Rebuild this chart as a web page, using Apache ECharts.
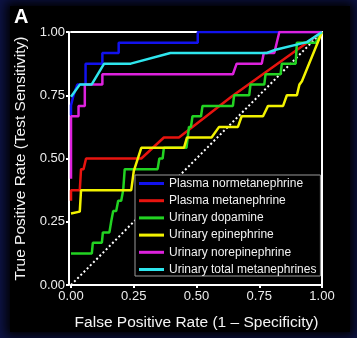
<!DOCTYPE html>
<html><head><meta charset="utf-8">
<script src="https://cdn.jsdelivr.net/npm/echarts@6/dist/echarts.min.js"></script>
<style>
html,body{margin:0;padding:0;background:#0d1345;width:357px;height:338px;overflow:hidden;}
#bg{position:absolute;left:10px;top:6px;width:340px;height:326px;background:#000;box-shadow:0 0 10px 4px #000;}
#c{position:absolute;left:0;top:0;width:357px;height:338px;}
</style>
</head><body><div id="bg"></div><div id="c"></div>
<script>
const seriesNames = ['Plasma normetanephrine','Plasma metanephrine','Urinary dopamine','Urinary epinephrine','Urinary norepinephrine','Urinary total metanephrines'];
const seriesColors = ['#1212ee','#e8140f','#22d322','#f2f200','#dd22dd','#2ee6ee'];
const tickValues = [0, 0.25, 0.5, 0.75, 1];
const tickLabels = ['0.00','0.25','0.50','0.75','1.00'];
const chanceLine = [[0,0],[1,1]];

const plasmaNormetanephrine = [[0,0.67],[0,0.71],[0.01,0.75],[0.025,0.792],[0.058,0.792],[0.058,0.875],[0.125,0.875],[0.125,0.917],[0.19,0.917],[0.19,0.958],[0.505,0.958],[0.505,1],[1,1]];
const plasmaMetanephrine = [[0,0.333],[0,0.375],[0.035,0.375],[0.04,0.458],[0.05,0.458],[0.06,0.5],[0.28,0.5],[0.37,0.583],[0.43,0.583],[0.64,0.745],[1,1]];
const urinaryDopamine = [[0,0.125],[0.083,0.125],[0.087,0.167],[0.123,0.167],[0.127,0.208],[0.153,0.208],[0.16,0.25],[0.168,0.292],[0.18,0.292],[0.188,0.333],[0.2,0.333],[0.208,0.375],[0.214,0.458],[0.345,0.458],[0.352,0.5],[0.365,0.5],[0.37,0.542],[0.46,0.542],[0.465,0.583],[0.47,0.625],[0.478,0.625],[0.484,0.667],[0.518,0.667],[0.524,0.708],[0.645,0.708],[0.65,0.75],[0.71,0.75],[0.715,0.792],[0.77,0.792],[0.775,0.833],[0.835,0.833],[0.84,0.875],[0.895,0.875],[0.9,0.958],[0.975,0.958],[1,1]];
const urinaryEpinephrine = [[0,0.283],[0,0.29],[0.035,0.29],[0.04,0.375],[0.24,0.375],[0.25,0.45],[0.28,0.542],[0.45,0.542],[0.462,0.583],[0.56,0.583],[0.59,0.625],[0.665,0.625],[0.68,0.667],[0.765,0.667],[0.785,0.708],[0.845,0.708],[0.86,0.75],[0.9,0.75],[0.91,0.792],[0.92,0.805],[1,1]];
const urinaryNorepinephrine = [[0,0.42],[0,0.667],[0.03,0.667],[0.03,0.708],[0.055,0.708],[0.055,0.792],[0.125,0.792],[0.125,0.833],[0.645,0.833],[0.66,0.875],[0.76,0.875],[0.768,0.917],[0.81,0.917],[0.83,1],[1,1]];
const urinaryTotalMetanephrines = [[0,0.744],[0.035,0.792],[0.082,0.792],[0.132,0.875],[0.238,0.875],[0.396,0.917],[0.78,0.917],[0.815,0.93],[0.94,0.96],[1,1]];

const seriesData = [plasmaNormetanephrine, plasmaMetanephrine, urinaryDopamine, urinaryEpinephrine, urinaryNorepinephrine, urinaryTotalMetanephrines];
const drawOrder = [1, 2, 3, 0, 4, 5];

const font = '"Liberation Sans", Arial, sans-serif';
function fmt(v){ const i = tickValues.findIndex(t => Math.abs(t - v) < 1e-9); return i >= 0 ? tickLabels[i] : ''; }

const chart = echarts.init(document.getElementById('c'), null, {renderer:'canvas'});

const mainAxis = (extra) => Object.assign({
  type:'value', min:0, max:1, interval:0.25,
  axisLine:{show:true, onZero:false, lineStyle:{color:'#ffffff', width:2}},
  axisTick:{show:true, length:3, inside:false, lineStyle:{color:'#ffffff', width:2}},
  axisLabel:{color:'#ececec', fontSize:13, fontFamily:font, formatter:fmt},
  splitLine:{show:false},
  nameLocation:'middle',
  nameTextStyle:{color:'#f4f4f4', fontSize:15.5, fontFamily:font}
}, extra);
const frameAxis = (extra) => Object.assign({
  type:'value', min:0, max:1,
  axisLine:{show:true, onZero:false, lineStyle:{color:'#ffffff', width:2}},
  axisTick:{show:false}, axisLabel:{show:false}, splitLine:{show:false}
}, extra);

const series = [{
  type:'line', name:'chance', data:chanceLine, symbol:'none', silent:true,
  lineStyle:{color:'#ffffff', width:2, type:[2,2.5]}, z:2
}];
drawOrder.forEach(i => {
  series.push({
    type:'line', name:seriesNames[i], data:seriesData[i], symbol:'none', showSymbol:false,
    color:seriesColors[i], lineStyle:{color:seriesColors[i], width:2.5}, itemStyle:{color:seriesColors[i]}, z:3
  });
});

chart.setOption({
  animation:false,
  backgroundColor:'transparent',
  title:{text:'A', left:14, top:7, padding:0, textStyle:{color:'#ffffff', fontSize:20, fontWeight:'bold', fontFamily:font}},
  grid:{left:71, top:32, width:251, height:253, containLabel:false},
  xAxis:[
    mainAxis({position:'bottom', name:'False Positive Rate (1 \u2013 Specificity)', nameGap:30, axisLabel:{color:'#ececec', fontSize:13, fontFamily:font, formatter:fmt, margin:5}}),
    frameAxis({position:'top'})
  ],
  yAxis:[
    mainAxis({position:'left', offset:2, name:'True Positive Rate (Test Sensitivity)', nameGap:40, axisLabel:{color:'#ececec', fontSize:13, fontFamily:font, formatter:fmt, margin:4}}),
    frameAxis({position:'right'})
  ],
  legend:{
    data:seriesNames, orient:'vertical', left:135, top:175, padding:[2,4,0,4],
    itemGap:4.2, itemWidth:25, itemHeight:3, icon:'rect',
    borderColor:'#9a9a9a', borderWidth:1, backgroundColor:'#000000', selectedMode:false,
    textStyle:{color:'#f0f0f0', fontSize:12, lineHeight:13, fontFamily:font}
  },
  series:series
});
</script>
</body></html>
